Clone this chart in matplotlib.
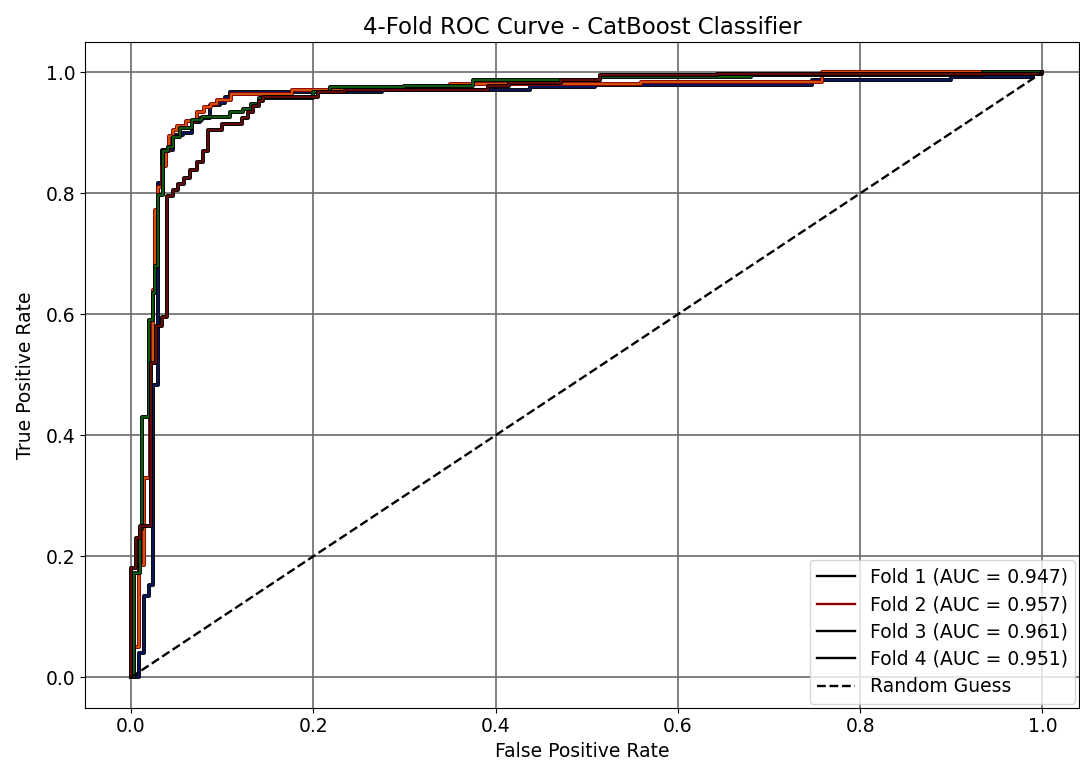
import matplotlib
matplotlib.use("Agg")
import matplotlib.pyplot as plt
import matplotlib.patheffects as pe
from matplotlib.lines import Line2D

# ROC corner points (fpr where tpr rises, new tpr level)
fold1_fpr = [0, 0.009, 0.014, 0.020, 0.024, 0.030, 0.034, 0.046, 0.057, 0.067, 0.076, 0.087, 0.098, 0.103, 0.109, 0.276, 0.438, 0.509, 0.747, 0.900, 0.990, 1.0]
fold1_tpr = [0, 0.040, 0.135, 0.153, 0.484, 0.817, 0.871, 0.896, 0.900, 0.918, 0.924, 0.946, 0.949, 0.959, 0.967, 0.970, 0.975, 0.979, 0.988, 0.993, 1.0, 1.0]

fold2_fpr = [0, 0.003, 0.009, 0.014, 0.021, 0.024, 0.026, 0.030, 0.034, 0.038, 0.042, 0.046, 0.051, 0.060, 0.072, 0.080, 0.088, 0.095, 0.110, 0.177, 0.287, 0.314, 0.350, 0.560, 0.758, 1.0]
fold2_tpr = [0, 0.050, 0.185, 0.330, 0.520, 0.640, 0.773, 0.810, 0.845, 0.870, 0.895, 0.905, 0.911, 0.920, 0.935, 0.942, 0.948, 0.954, 0.965, 0.970, 0.976, 0.978, 0.980, 0.984, 1.0, 1.0]

fold3_fpr = [0, 0.003, 0.010, 0.012, 0.020, 0.024, 0.026, 0.030, 0.035, 0.041, 0.046, 0.054, 0.067, 0.078, 0.109, 0.123, 0.132, 0.140, 0.200, 0.218, 0.300, 0.375, 0.515, 0.680, 0.935, 1.0]
fold3_tpr = [0, 0.173, 0.245, 0.430, 0.590, 0.636, 0.680, 0.797, 0.870, 0.877, 0.893, 0.908, 0.921, 0.926, 0.934, 0.940, 0.948, 0.957, 0.967, 0.975, 0.978, 0.988, 0.992, 0.996, 1.0, 1.0]

fold4_fpr = [0, 0, 0.006, 0.010, 0.022, 0.028, 0.034, 0.040, 0.046, 0.052, 0.058, 0.065, 0.072, 0.079, 0.085, 0.100, 0.122, 0.128, 0.134, 0.140, 0.145, 0.205, 0.235, 0.392, 0.415, 0.472, 0.515, 0.643, 1.0]
fold4_tpr = [0, 0.180, 0.230, 0.250, 0.520, 0.580, 0.595, 0.795, 0.805, 0.815, 0.825, 0.838, 0.852, 0.870, 0.905, 0.915, 0.925, 0.935, 0.945, 0.952, 0.959, 0.967, 0.970, 0.978, 0.982, 0.988, 0.995, 0.998, 1.0]

fold_labels = ["Fold 1 (AUC = 0.947)", "Fold 2 (AUC = 0.957)",
               "Fold 3 (AUC = 0.961)", "Fold 4 (AUC = 0.951)"]
line_colors = ["#0b1a6e", "#e0620a", "#0d6b12", "#7a0a0a"]
edge_colors = ["black", "#8b0000", "black", "black"]
legend_colors = ["black", "#8b0000", "black", "black"]

fig = plt.figure(figsize=(10.8, 7.65), dpi=100)
ax = fig.add_axes([0.079, 0.075, 0.92, 0.87])

curves = [(fold1_fpr, fold1_tpr), (fold2_fpr, fold2_tpr),
          (fold3_fpr, fold3_tpr), (fold4_fpr, fold4_tpr)]
for (fx, ty), c, ec in zip(curves, line_colors, edge_colors):
    ax.plot(fx, ty, drawstyle="steps-post", color=c, linewidth=1.2,
            path_effects=[pe.Stroke(linewidth=2.8, foreground=ec), pe.Normal()])

ax.plot([0, 1], [0, 1], linestyle="--", color="black", linewidth=1.7)

ax.set_xlim(-0.05, 1.04)
ax.set_ylim(-0.05, 1.05)
ax.set_xticks([0.0, 0.2, 0.4, 0.6, 0.8, 1.0])
ax.set_yticks([0.0, 0.2, 0.4, 0.6, 0.8, 1.0])
ax.tick_params(labelsize=13.5)
ax.grid(True, color="#6a6a6a", linewidth=1.2)
ax.set_xlabel("False Positive Rate", fontsize=13.5)
ax.set_ylabel("True Positive Rate", fontsize=13.5, labelpad=8)
ax.set_title("4-Fold ROC Curve - CatBoost Classifier", fontsize=16.5)

handles = [Line2D([], [], color=c, linewidth=1.7) for c in legend_colors]
handles.append(Line2D([], [], color="black", linestyle="--", linewidth=1.7))
ax.legend(handles, fold_labels + ["Random Guess"], loc="lower right", fontsize=13.5,
          borderaxespad=0.2, labelspacing=0.45)

fig.savefig("out.png", dpi=100)
